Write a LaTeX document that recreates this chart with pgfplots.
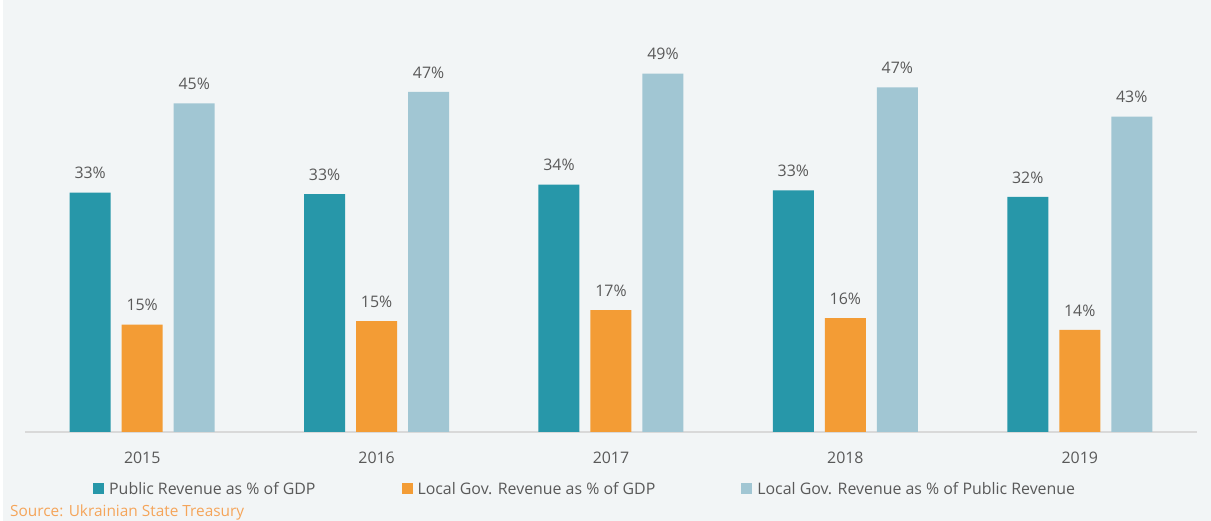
\documentclass[border=0pt]{standalone}
\usepackage{fontspec}
\setmainfont{Open Sans}
\usepackage{pgfplots}
\pgfplotsset{compat=1.18}
\definecolor{bgc}{HTML}{F2F5F6}
\definecolor{pubrev}{HTML}{2797A9}
\definecolor{locgdp}{HTML}{F39C35}
\definecolor{locpub}{HTML}{A1C6D3}
\definecolor{txt}{HTML}{595959}
\definecolor{srcc}{HTML}{F5A55A}
\definecolor{axgray}{HTML}{D9D9D9}
\newcommand{\chartfont}{\fontsize{15.9}{18}\selectfont}

\begin{document}
\begin{tikzpicture}[x=1pt,y=1pt]
\useasboundingbox (0,0) rectangle (1211,521);
\fill[white] (0,0) rectangle (1211,521);
\fill[bgc] (3,0) rectangle (1211,521);
\begin{axis}[
  at={(25pt,89pt)}, anchor=south west,
  scale only axis, width=1172pt, height=365pt,
  xmin=-0.5, xmax=4.5, ymin=0, ymax=50,
  axis x line*=bottom, axis y line=none,
  x axis line style={draw=axgray, line width=1.5pt},
  xtick={0,1,2,3,4},
  xticklabels={2015,2016,2017,2018,2019},
  major tick length=0pt,
  xticklabel style={font=\chartfont, text=txt, yshift=-16pt},
  ytick=\empty,
  ybar=11pt, bar width=41pt,
  nodes near coords={\pgfmathprintnumber[fixed,precision=0,assume math mode=true]{\pgfplotspointmeta}\%},
  every node near coord/.append style={font=\chartfont, text=txt, yshift=10pt},
  legend columns=3,
  legend image code/.code={\fill[#1] (0pt,-5.5pt) rectangle (11pt,5.5pt);},
  legend style={at={(0.058,-0.156)}, anchor=west, draw=none, fill=none,
    inner sep=0pt, font=\chartfont, text=txt,
    /tikz/every odd column/.append style={column sep=3pt},
    /tikz/every even column/.append style={column sep=84pt}},
]
\addplot[fill=pubrev, draw=none] coordinates {(0,32.8) (1,32.6) (2,33.9) (3,33.1) (4,32.2)};
\addplot[fill=locgdp, draw=none] coordinates {(0,14.7) (1,15.2) (2,16.7) (3,15.6) (4,14.0)};
\addplot[fill=locpub, draw=none] coordinates {(0,45.0) (1,46.6) (2,49.1) (3,47.2) (4,43.2)};
\legend{Public Revenue as \% of GDP, Local Gov. Revenue as \% of GDP, Local Gov. Revenue as \% of Public Revenue}
\end{axis}
\node[anchor=base west, inner sep=0pt, text=srcc, font=\fontsize{15.4}{18}\selectfont] at (10,4.5) {Source: Ukrainian State Treasury};
\end{tikzpicture}
\end{document}
